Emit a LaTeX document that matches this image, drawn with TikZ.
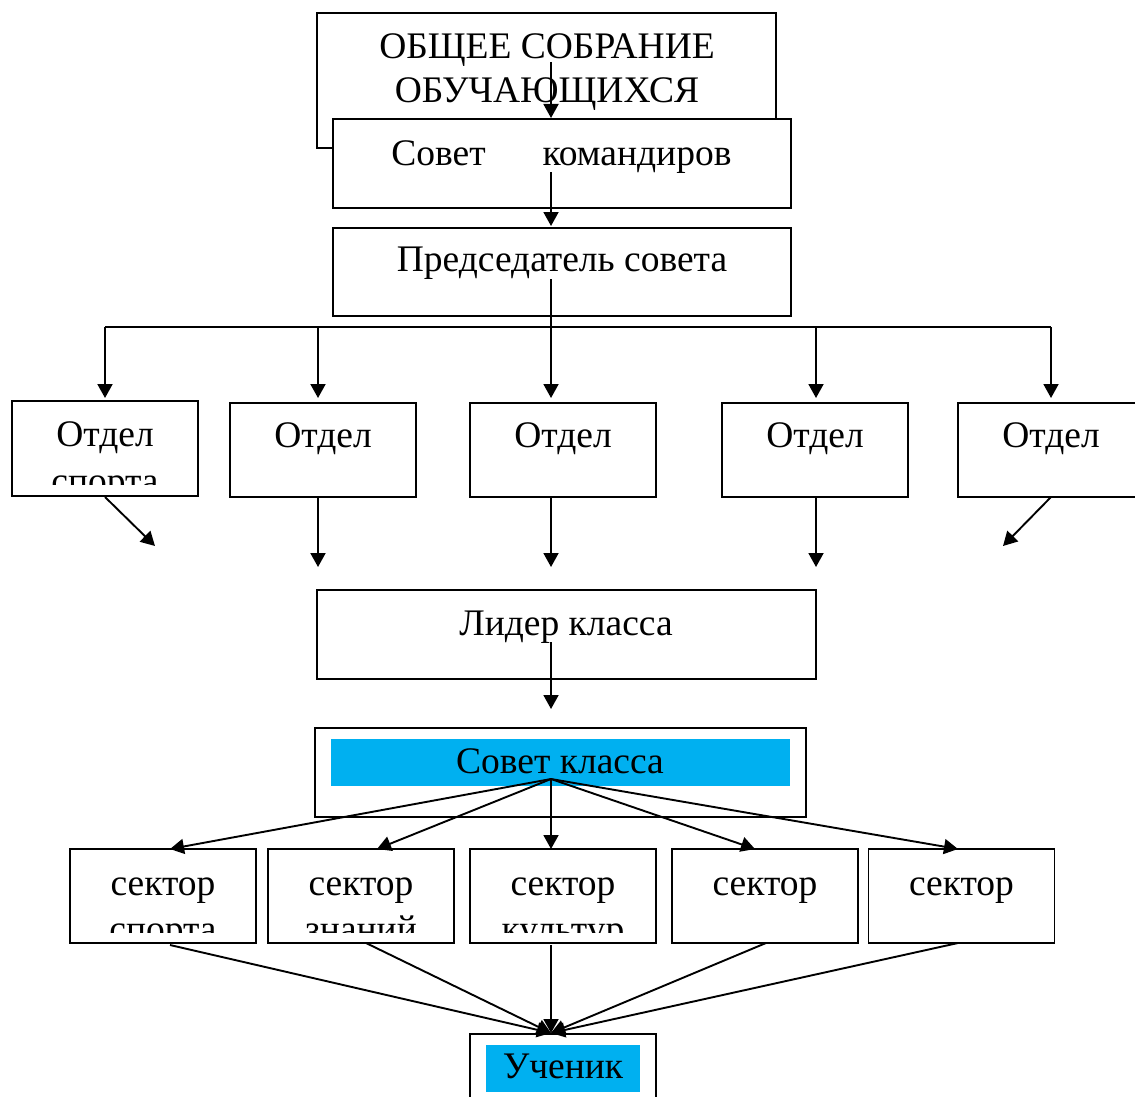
\documentclass[tikz,border=0pt]{standalone}
\usepackage{fontspec}
\setmainfont{Liberation Serif}
\usetikzlibrary{arrows.meta}
\definecolor{hl}{HTML}{00B0F0}
\begin{document}
\begin{tikzpicture}[x=1pt,y=-1pt,
  box/.style={draw, line width=1.9pt, fill=white, inner sep=0pt},
  hlbox/.style={fill=hl, draw=none, inner sep=0pt},
  lbl/.style={anchor=base, inner sep=0pt, font=\fontsize{37.5}{45}\selectfont},
  conn/.style={line width=1.9pt},
  arr/.style={line width=1.9pt, -{Triangle[length=14pt,width=15pt]}}]
\useasboundingbox (0,0) rectangle (1135,1097);
\clip (0,0) rectangle (1135,1097);
\fill[white] (0,0) rectangle (1135,1097);

% top boxes
\node[box, minimum width=459pt, minimum height=135pt] (gen) at (546.5,80.5) {};
\node[box, minimum width=458pt, minimum height=89pt] (sk) at (562,163.5) {};
\node[box, minimum width=458pt, minimum height=88pt] (pr) at (562,272) {};
\node[lbl] (genA) at (547,59) {ОБЩЕЕ СОБРАНИЕ};
\node[lbl] (genB) at (547,103) {ОБУЧАЮЩИХСЯ};
\node[lbl] (skA) at (438.5,165) {Совет};
\node[lbl] (skB) at (637,165) {командиров};
\node[lbl] (prT) at (562,271) {Председатель совета};

% departments
\node[box, minimum width=186pt, minimum height=95pt] (d1) at (105,448.5) {};
\node[box, minimum width=186pt, minimum height=94pt] (d2) at (323,450) {};
\node[box, minimum width=186pt, minimum height=94pt] (d3) at (563,450) {};
\node[box, minimum width=186pt, minimum height=94pt] (d4) at (815,450) {};
\node[box, minimum width=186pt, minimum height=94pt] (d5) at (1051,450) {};
\node[lbl] (d1t) at (105,446) {Отдел};
\begin{scope}
  \clip (12,470) rectangle (198,484);
  \node[lbl] (d1u) at (105,493) {спорта};
\end{scope}
\node[lbl] (d2t) at (323,447) {Отдел};
\node[lbl] (d3t) at (563,447) {Отдел};
\node[lbl] (d4t) at (815,447) {Отдел};
\node[lbl] (d5t) at (1051,447) {Отдел};

% leader
\node[box, minimum width=499pt, minimum height=89pt] (ld) at (566.5,634.5) {};
\node[lbl] (ldT) at (566,635) {Лидер класса};

% class council
\node[box, minimum width=491pt, minimum height=89pt] (sc) at (560.5,772.5) {};
\node[hlbox, minimum width=459pt, minimum height=47pt] (scH) at (560.5,762.5) {};
\node[lbl] (scT) at (560,773) {Совет класса};

% sectors
\foreach \n/\x in {1/163,2/361,3/563,4/765,5/961.5}
  \node[box, minimum width=186pt, minimum height=94pt] (s\n) at (\x,896) {};
\foreach \n/\x in {1/163,2/361,3/563,4/765,5/961.5}
  \node[lbl] (s\n t) at (\x,895) {сектор};
\begin{scope}
  \clip (60,915) rectangle (660,932);
  \node[lbl] (s1u) at (163,941) {спорта};
  \node[lbl] (s2u) at (361,941) {знаний};
  \node[lbl] (s3u) at (563,941) {культур};
\end{scope}

% pupil
\node[box, minimum width=186pt, minimum height=80pt] (up) at (563,1074) {};
\node[hlbox, minimum width=154pt, minimum height=47pt] (upH) at (563,1068.5) {};
\node[lbl] (upT) at (563,1078) {Ученик};

% coordinates
\coordinate (c1a) at (551,62);   \coordinate (c1b) at (551,118);
\coordinate (c2a) at (551,172);  \coordinate (c2b) at (551,226);
\coordinate (c3a) at (551,279);
\coordinate (hL) at (105,327);   \coordinate (hR) at (1051,327);
\foreach \n/\x in {1/105,2/318,3/551,4/816,5/1051}{
  \coordinate (t\n) at (\x,327);
  \coordinate (e\n) at (\x,398);
}
\coordinate (o1) at (105,497);  \coordinate (p1) at (155,546);
\coordinate (o2) at (318,497);  \coordinate (p2) at (318,567);
\coordinate (o3) at (551,497);  \coordinate (p3) at (551,567);
\coordinate (o4) at (816,497);  \coordinate (p4) at (816,567);
\coordinate (o5) at (1051,497); \coordinate (p5) at (1003,546);
\coordinate (l1) at (551,642);  \coordinate (l2) at (551,709);
\coordinate (fo) at (551,779);
\coordinate (f1) at (170,849); \coordinate (f2) at (377,849); \coordinate (f3) at (551,849);
\coordinate (f4) at (755,849); \coordinate (f5) at (958,849);
\coordinate (b1) at (170,945); \coordinate (b2) at (366,943); \coordinate (b3) at (551,945);
\coordinate (b4) at (766,943); \coordinate (b5) at (958,943);
\coordinate (uT) at (551,1033);

% connectors
\draw[arr] (c1a) -- (c1b);
\draw[arr] (c2a) -- (c2b);
\draw[conn] (hL) -- (hR);
\draw[arr] (c3a) -- (e3);
\foreach \n in {1,2,4,5} \draw[arr] (t\n) -- (e\n);
\foreach \n in {1,...,5} \draw[arr] (o\n) -- (p\n);
\draw[arr] (l1) -- (l2);
\foreach \n in {1,...,5} \draw[arr] (fo) -- (f\n);
\foreach \n in {1,...,5} \draw[arr] (b\n) -- (uT);
\end{tikzpicture}
\end{document}
